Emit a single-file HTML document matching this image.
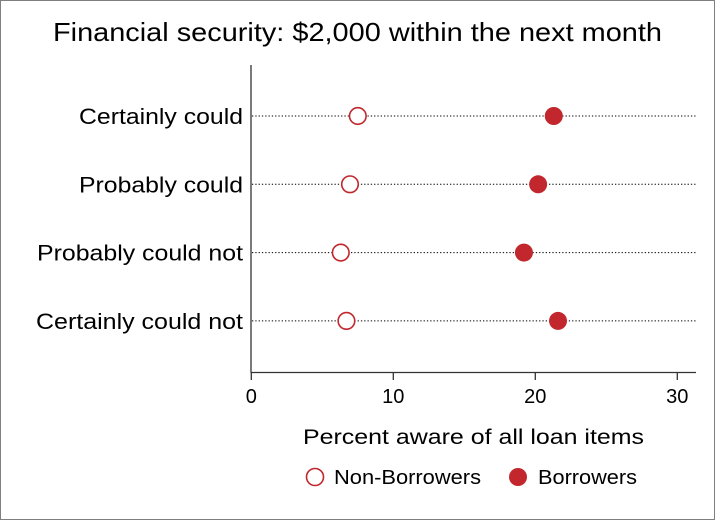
<!DOCTYPE html>
<html><head><meta charset="utf-8"><style>
body{margin:0;background:#fff;}
svg{display:block;font-family:"Liberation Sans",Arial,sans-serif;}
</style></head><body>
<svg width="715" height="520" xmlns="http://www.w3.org/2000/svg">
<rect x="0.5" y="0.5" width="714" height="519" fill="#fff" stroke="#7f7f7f"/>
<text x="53" y="41" font-size="26" textLength="609" lengthAdjust="spacingAndGlyphs" fill="#000">Financial security: $2,000 within the next month</text>
<g id="plot"></g>
<text x="303" y="444" font-size="21" textLength="341" lengthAdjust="spacingAndGlyphs">Percent aware of all loan items</text>
<g>
<g>
<circle cx="315" cy="477" r="8.5" fill="#fff" stroke="#c1272d" stroke-width="1.6"/>
<text x="334" y="484" font-size="20" textLength="147" lengthAdjust="spacingAndGlyphs">Non-Borrowers</text></g>
<g>
<circle cx="518" cy="477" r="9" fill="#c1272d"/>
<text x="538" y="484" font-size="20" textLength="99" lengthAdjust="spacingAndGlyphs">Borrowers</text></g>
</g>
</svg>
<script>
const categories=["Certainly could","Probably could","Probably could not","Certainly could not"];
const nonBorrowers=[7.5,6.95,6.3,6.7];
const borrowers=[21.3,20.2,19.2,21.6];
const xTicks=[0,10,20,30];
const labelW=[164,164,206,207];
const NS="http://www.w3.org/2000/svg";
const g=document.getElementById('plot');
const x0=251.3,pxPer=14.2;
const xs=v=>x0+v*pxPer;
const rowY=i=>116+i*68.3;
function mk(t,a){const e=document.createElementNS(NS,t);for(const k in a)e.setAttribute(k,a[k]);g.appendChild(e);return e;}
let e=mk('line',{x1:251,y1:65,x2:251,y2:372.5,stroke:'#333','stroke-width':1.3});


e=mk('line',{x1:250.5,y1:372.5,x2:696,y2:372.5,stroke:'#333','stroke-width':1.3});


xTicks.forEach(t=>{
 let l=mk('line',{x1:xs(t),y1:372,x2:xs(t),y2:380,stroke:'#333','stroke-width':1.3});
 
 
 let tx=mk('text',{x:xs(t),y:403,'font-size':20,'text-anchor':'middle'});tx.textContent=t;
 
 
});
categories.forEach((c,i)=>{
 const y=rowY(i);
 let l=mk('line',{x1:252,y1:y,x2:697,y2:y,stroke:'#000','stroke-width':1,'stroke-dasharray':'1.3,2'});
 
 
 let tx=mk('text',{x:243-labelW[i],y:y+8,'font-size':22,textLength:labelW[i],lengthAdjust:'spacingAndGlyphs'});tx.textContent=c;
 
 
 let a=mk('circle',{cx:xs(nonBorrowers[i]),cy:y,r:8.3,fill:'#fff',stroke:'#c1272d','stroke-width':1.6});
 
 
 let b=mk('circle',{cx:xs(borrowers[i]),cy:y,r:9,fill:'#c1272d'});
 
 
});
</script>
</body></html>
